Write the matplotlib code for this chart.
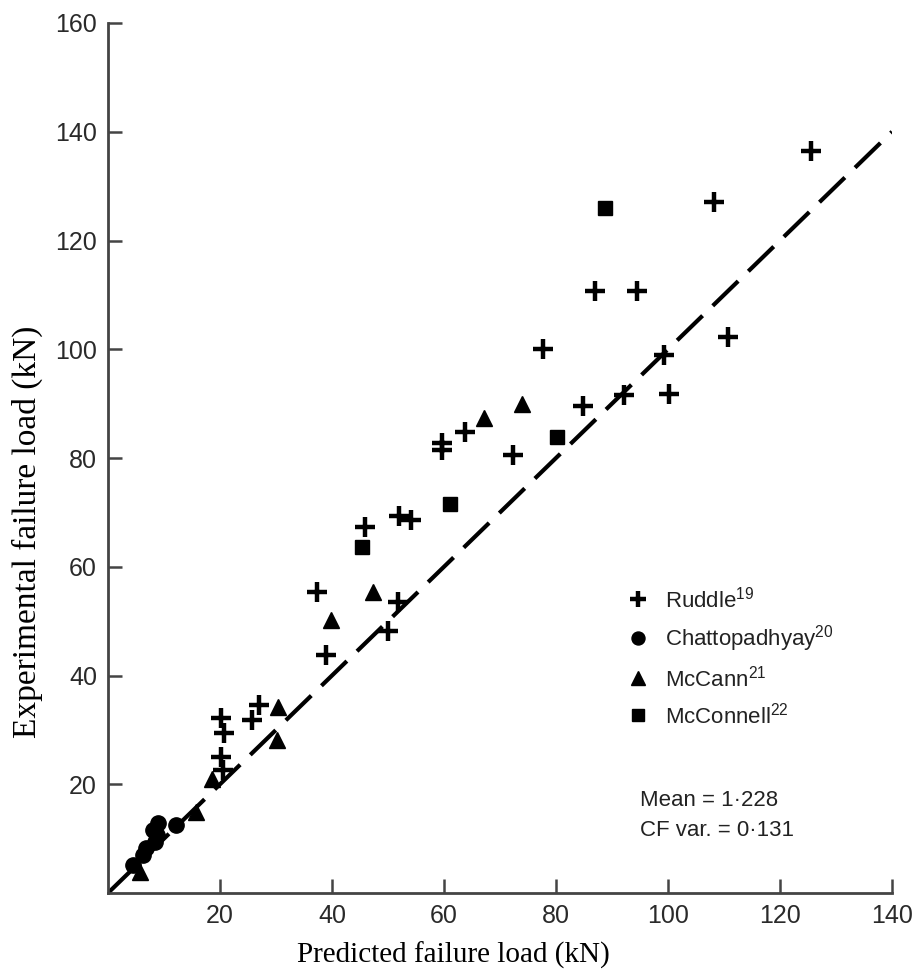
import matplotlib
matplotlib.use("Agg")
import matplotlib.pyplot as plt

# Ruddle (+)
ruddle_x = [125.6, 108.3, 87.0, 94.4, 77.7, 110.8, 99.2, 84.9, 92.2, 100.1,
            59.6, 59.7, 63.8, 72.4, 45.9, 52.0, 54.1, 37.3, 51.8, 50.0,
            39.0, 27.0, 25.7, 20.1, 20.7, 20.2, 20.6]
ruddle_y = [136.4, 127.1, 110.8, 110.8, 100.1, 102.3, 98.9, 89.5, 91.5, 91.8,
            82.7, 81.4, 84.8, 80.5, 67.3, 69.3, 68.6, 55.4, 53.5, 48.1,
            43.8, 34.6, 31.9, 32.2, 29.5, 25.0, 22.7]
# Chattopadhyay (circles)
chatt_x = [12.1, 9.0, 8.1, 8.7, 8.4, 6.7, 6.3, 4.5]
chatt_y = [12.5, 12.8, 11.6, 10.7, 9.4, 8.2, 7.0, 5.1]
# McCann (triangles)
mccann_x = [74.0, 67.2, 47.4, 39.8, 30.3, 30.1, 18.6, 15.8, 5.7]
mccann_y = [90.0, 87.4, 55.4, 50.2, 34.2, 28.1, 21.0, 14.9, 3.9]
# McConnell (squares)
mcconnell_x = [88.8, 80.1, 61.1, 45.3]
mcconnell_y = [126.0, 83.8, 71.5, 63.7]

line_xy = [0, 140]
xticks = [20, 40, 60, 80, 100, 120, 140]
yticks = [20, 40, 60, 80, 100, 120, 140, 160]

sans = "Liberation Sans"
serif = "Liberation Serif"
plt.rcParams["mathtext.fontset"] = "custom"
plt.rcParams["mathtext.rm"] = sans
plt.rcParams["mathtext.it"] = sans

fig = plt.figure(figsize=(9.18, 9.76), dpi=100)
ax = fig.add_axes([108 / 918, 83 / 976, 784 / 918, 870 / 976])

# 1:1 line
ax.plot(line_xy, line_xy, color="black", lw=3.0, dashes=(8.5, 3.4),
        solid_capstyle="butt", zorder=1)

ax.plot(ruddle_x, ruddle_y, ls="none", marker="+", ms=14, mew=3.2,
        color="black", label="Ruddle$^{19}$", zorder=3)
ax.plot(chatt_x, chatt_y, ls="none", marker="o", ms=11,
        color="black", label="Chattopadhyay$^{20}$", zorder=3)
ax.plot(mccann_x, mccann_y, ls="none", marker="^", ms=11.5,
        color="black", label="McCann$^{21}$", zorder=3)
ax.plot(mcconnell_x, mcconnell_y, ls="none", marker="s", ms=10.5,
        color="black", label="McConnell$^{22}$", zorder=3)

ax.set_xlim(0, 140)
ax.set_ylim(0, 160)
ax.set_xticks(xticks)
ax.set_yticks(yticks)
ax.set_xticklabels([str(t) for t in xticks], family=sans, fontsize=18, color="#2a2a2a")
ax.set_yticklabels([str(t) for t in yticks], family=sans, fontsize=18, color="#2a2a2a")
ax.tick_params(direction="in", length=10, width=1.8, color="#444444", pad=8)

ax.spines["top"].set_visible(False)
ax.spines["right"].set_visible(False)
for s in ["left", "bottom"]:
    ax.spines[s].set_linewidth(2)
    ax.spines[s].set_color("#444444")

leg = ax.legend(loc="upper left", bbox_to_anchor=(618 / 918, 1 - 575 / 976),
                bbox_transform=fig.transFigure, frameon=False,
                prop={"family": sans, "size": 16}, handlelength=0.8,
                handletextpad=0.8, labelspacing=0.5, borderpad=0,
                markerscale=0.85)
for t in leg.get_texts():
    t.set_color("#222222")

fig.text(640 / 918, 1 - 800 / 976, "Mean = 1\u00b7228", family=sans, fontsize=16,
         color="#222222", va="center")
fig.text(640 / 918, 1 - 831 / 976, "CF var. = 0\u00b7131", family=sans, fontsize=16,
         color="#222222", va="center")

# axis titles
fig.text(453 / 918, 1 - 955 / 976, "Predicted failure load (kN)", family=serif,
         fontsize=21, ha="center", va="center")
fig.text(27 / 918, 1 - 532 / 976, "Experimental failure load (kN)", family=serif,
         fontsize=24, ha="center", va="center", rotation=90)

fig.savefig("out.png", dpi=100)
